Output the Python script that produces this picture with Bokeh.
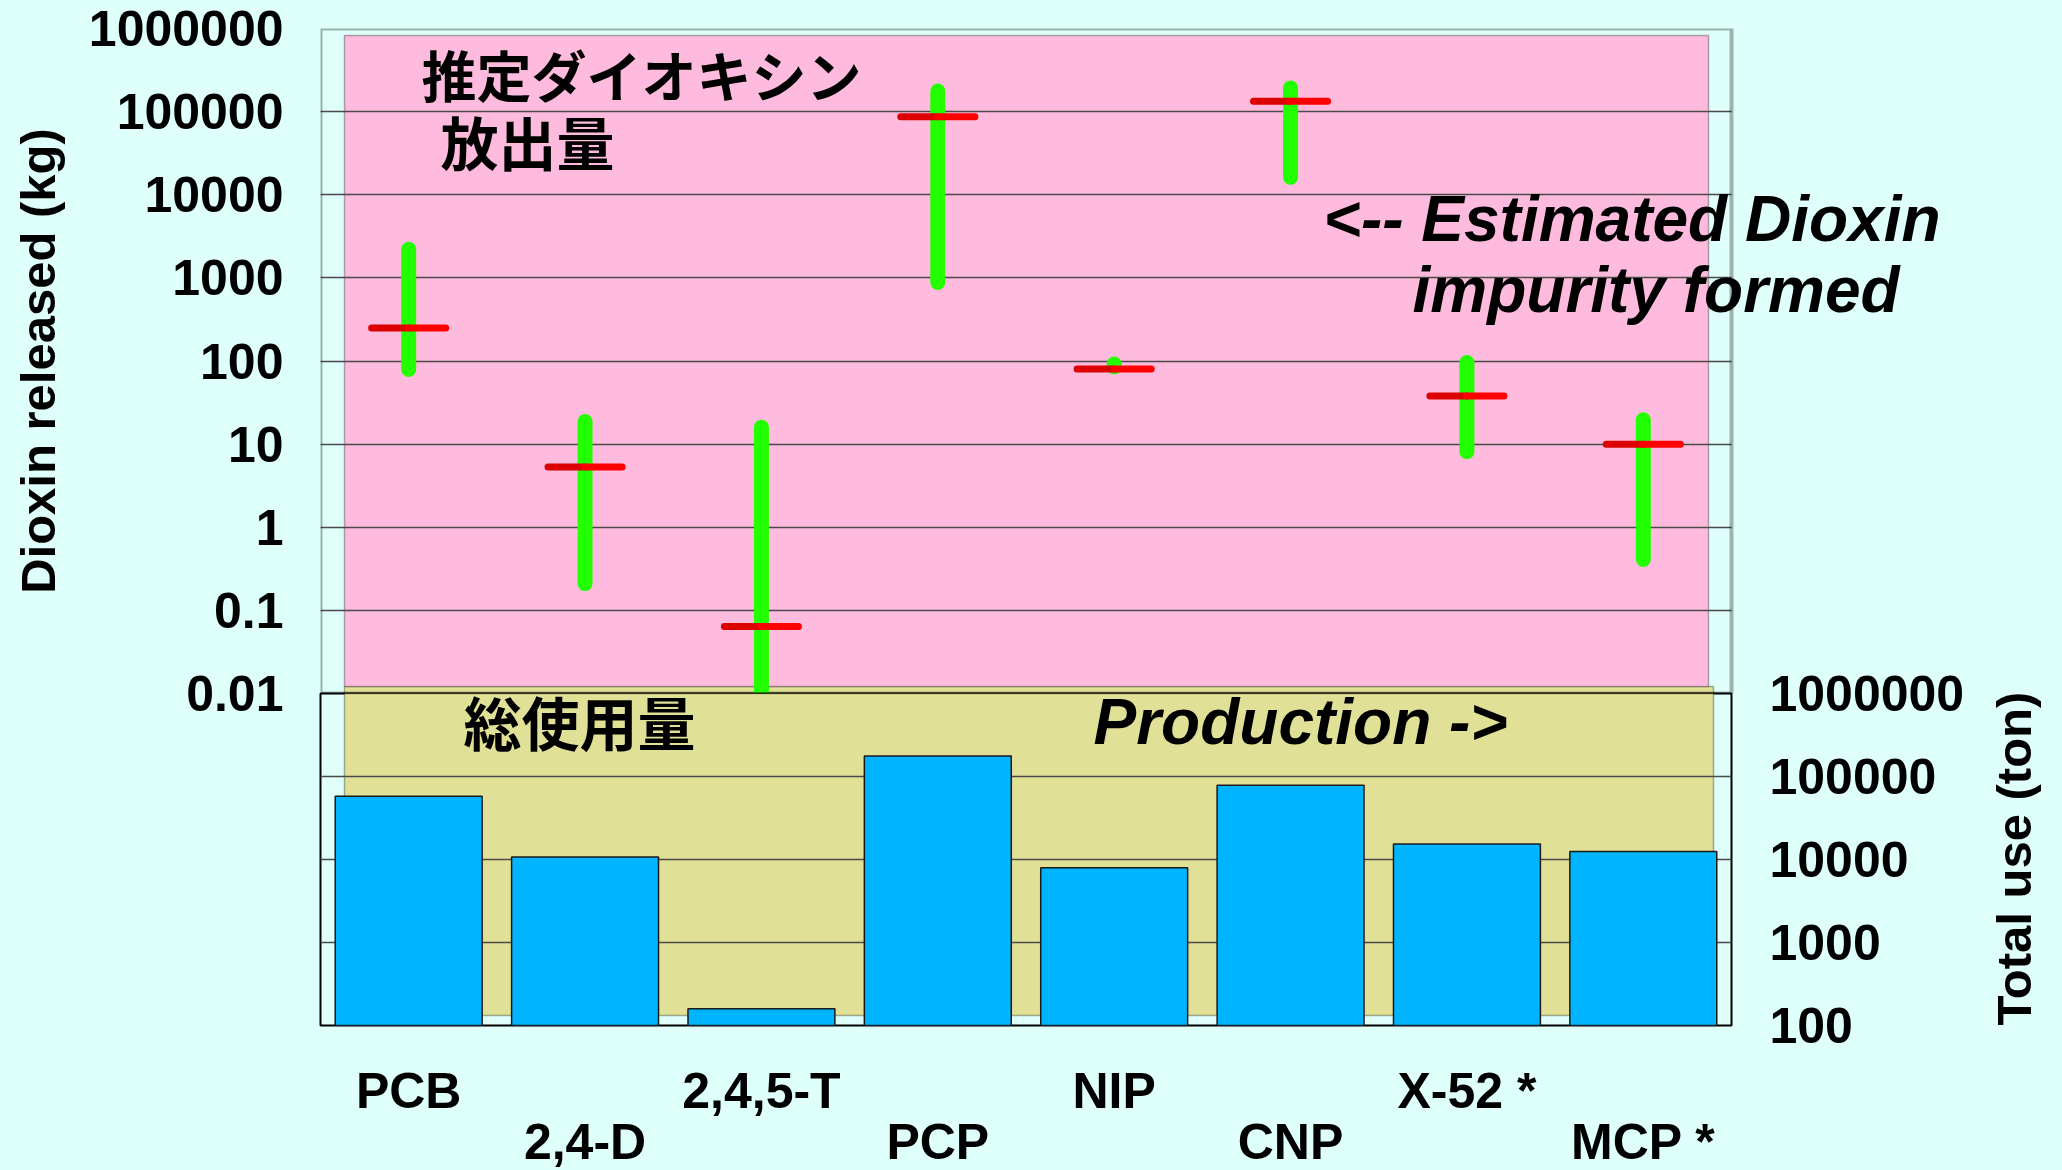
import math

from bokeh.plotting import figure
from bokeh.layouts import column
from bokeh.models import (ColumnDataSource, FixedTicker, Range1d, FactorRange,
                          BoxAnnotation, Label, CategoricalAxis,
                          CustomJSTickFormatter)
from bokeh.transform import dodge
from bokeh.embed import file_html
from bokeh.resources import INLINE

# ---- data -------------------------------------------------------------
categories = ["PCB", "2,4-D", "2,4,5-T", "PCP", "NIP", "CNP", "X-52 *", "MCP *"]

# estimated dioxin impurity released (kg): range and central estimate
dioxin_low = [79, 0.21, 0.01, 880, 85, 16200, 8.1, 0.41]
dioxin_high = [2210, 18.7, 16, 177000, 92, 193000, 96, 19.6]
dioxin_est = [250, 5.3, 0.064, 87000, 80, 133000, 38, 10]

# total production / use (ton)
total_use = [58000, 10700, 159, 176000, 7940, 78700, 15400, 12500]

dioxin_ticks = [0.01, 0.1, 1, 10, 100, 1000, 10000, 100000, 1000000]
dioxin_tick_labels = ["0.01", "0.1", "1", "10", "100", "1000", "10000",
                      "100000", "1000000"]
use_ticks = [100, 1000, 10000, 100000, 1000000]
use_tick_labels = ["100", "1000", "10000", "100000", "1000000"]

# ---- styling ------------------------------------------------------------
BG = "#DEFFFA"
PINK = "#FFBBDD"
KHAKI = "#E0E096"
BAR = "#00B4FF"
GREEN = "#22FF00"
RED = "#FF0000"
RED_DARK = "#DC0000"
GRID = "#4a4a4a"
FONT = "Liberation Sans"
CJK = "Noto Sans CJK JP"

W = 2062
FRAME_L, FRAME_W = 320, 1411
TOP_T, TOP_H = 28, 665
BOT_H, BOT_B = 332, 145
PAD = 30                       # room for the tick labels at the panel seam
RIGHT_B = W - FRAME_L - FRAME_W
CAT_PX = FRAME_W / len(categories)
N = len(categories)


def sx(px):
    """screen x (px) -> categorical synthetic coordinate"""
    return (px - FRAME_L) / CAT_PX


def sy_top(py):
    """screen y (px) -> value on the kg axis (8 decades over TOP_H)"""
    return 10 ** (6 - (py - TOP_T) * 8 / TOP_H)


def sy_bot(py):
    """screen y (px) -> value on the ton axis (4 decades over BOT_H)"""
    return 10 ** (6 - (py - (TOP_T + TOP_H)) * 4 / BOT_H)


def style_axis(ax):
    ax.major_label_text_font = FONT
    ax.major_label_text_font_size = "50px"
    ax.major_label_text_font_style = "bold"
    ax.major_label_text_color = "black"
    ax.major_tick_line_color = None
    ax.minor_tick_line_color = None
    ax.major_tick_out = 0
    ax.major_tick_in = 0
    ax.minor_tick_out = 0
    ax.axis_line_color = None


def big_label(text, x, y, size, font=FONT, style="bold", baseline="middle"):
    return Label(x=x, y=y, text=text, text_font=font, text_font_size=size,
                 text_font_style=style, text_align="left",
                 text_baseline=baseline, text_color="black")


# ---- upper panel: dioxin released ----------------------------------------
# the frame runs on to the right edge so the note can overhang the plot box
top = figure(x_range=Range1d(0, (W - FRAME_L) / CAT_PX),
             y_range=Range1d(0.01, 1e6), y_axis_type="log",
             x_axis_location=None,
             frame_width=W - FRAME_L, frame_height=TOP_H,
             min_border_left=FRAME_L, min_border_right=0,
             min_border_top=TOP_T, min_border_bottom=PAD,
             output_backend="svg", toolbar_location=None,
             background_fill_color=BG, border_fill_color=BG,
             outline_line_color=None)

top.add_layout(BoxAnnotation(left=sx(344), right=sx(1713), top=sy_top(686),
                             fill_color=KHAKI, fill_alpha=1,
                             line_color="black", line_width=1.5, level="image"))
top.add_layout(BoxAnnotation(left=sx(344), right=sx(1708),
                             top=sy_top(35), bottom=sy_top(686),
                             fill_color=PINK, fill_alpha=1,
                             line_color="black", line_width=1.5, level="image"))

yax = top.yaxis[0]
yax.ticker = FixedTicker(ticks=dioxin_ticks)
yax.major_label_overrides = dict(zip(dioxin_ticks, dioxin_tick_labels))
style_axis(yax)
yax.major_label_standoff = 37
yax.axis_label = "Dioxin released (kg)"
yax.axis_label_text_font = FONT
yax.axis_label_text_font_size = "49px"
yax.axis_label_text_font_style = "bold"
yax.axis_label_text_color = "black"
yax.axis_label_standoff = 21

top.xgrid.visible = False
top.ygrid.ticker = FixedTicker(ticks=dioxin_ticks)
top.ygrid.grid_line_color = GRID
top.ygrid.grid_line_width = 1.5

# blank out the grid beyond the plot box, then draw the box itself
top.add_layout(BoxAnnotation(left=N, fill_color=BG, fill_alpha=1,
                             line_color=None, level="underlay"))
top.add_layout(BoxAnnotation(left=0, right=N, fill_alpha=0,
                             line_color="black", line_width=4,
                             level="underlay"))

src = ColumnDataSource(dict(x=[i + 0.5 for i in range(N)], low=dioxin_low,
                            high=dioxin_high, est=dioxin_est))
top.segment(x0="x", x1="x", y0="low", y1="high", source=src,
            line_color=GREEN, line_width=15, line_cap="round")
top.segment(x0=dodge("x", -0.21), x1="x", y0="est", y1="est", source=src,
            line_color=RED_DARK, line_width=7, line_cap="round")
top.segment(x0="x", x1=dodge("x", 0.21), y0="est", y1="est", source=src,
            line_color=RED, line_width=7, line_cap="round")

top.add_layout(big_label("推定ダイオキシン", sx(421), sy_top(72), "55px", CJK))
top.add_layout(big_label("放出量", sx(440), sy_top(140), "58px", CJK))
top.add_layout(big_label("<-- Estimated Dioxin", sx(1323), sy_top(218),
                         "64px", style="bold italic", baseline="alphabetic"))
top.add_layout(big_label("impurity formed", sx(1412), sy_top(289),
                         "64px", style="bold italic", baseline="alphabetic"))

# ---- lower panel: total use ---------------------------------------------
bot = figure(x_range=FactorRange(factors=categories),
             y_range=Range1d(100, 1e6), y_axis_type="log",
             y_axis_location="right",
             frame_width=FRAME_W, frame_height=BOT_H,
             min_border_left=FRAME_L, min_border_right=RIGHT_B,
             min_border_top=PAD, min_border_bottom=BOT_B,
             output_backend="svg", toolbar_location=None,
             background_fill_color=BG, border_fill_color=None,
             outline_line_color="black", outline_line_width=2,
             margin=(-2 * PAD, 0, 0, 0))

bot.add_layout(BoxAnnotation(left=sx(344), right=sx(1713), bottom=sy_bot(1015),
                             fill_color=KHAKI, fill_alpha=1,
                             line_color="black", line_width=1.5, level="image"))

rax = bot.yaxis[0]
rax.ticker = FixedTicker(ticks=use_ticks)
rax.major_label_overrides = dict(zip(use_ticks, use_tick_labels))
style_axis(rax)
rax.major_label_standoff = 38
rax.axis_label = "Total use (ton)"
rax.axis_label_text_font = FONT
rax.axis_label_text_font_size = "49px"
rax.axis_label_text_font_style = "bold"
rax.axis_label_text_color = "black"
rax.axis_label_standoff = 47
props = rax.properties()
if "axis_label_orientation" in props:
    rax.axis_label_orientation = math.pi / 2
if "axis_label_align" in props:
    rax.axis_label_align = "start"

# category names, staggered over two rows
pick = "return index % 2 === parity ? tick : '';"
xax = bot.xaxis[0]
style_axis(xax)
xax.major_label_standoff = 37
xax.formatter = CustomJSTickFormatter(args=dict(parity=0), code=pick)
xax2 = CategoricalAxis(formatter=CustomJSTickFormatter(args=dict(parity=1),
                                                       code=pick))
style_axis(xax2)
xax2.major_label_standoff = -8
bot.add_layout(xax2, "below")

bot.xgrid.visible = False
bot.ygrid.ticker = FixedTicker(ticks=use_ticks[1:-1])
bot.ygrid.grid_line_color = GRID
bot.ygrid.grid_line_width = 1.5

usrc = ColumnDataSource(dict(cat=categories, use=total_use))
bot.vbar(x="cat", top="use", bottom=100, width=0.833, source=usrc,
         fill_color=BAR, line_color="#1a1a1a", line_width=1.5)

bot.add_layout(big_label("総使用量", sx(463), sy_bot(720), "58px", CJK))
bot.add_layout(big_label("Production ->", sx(1093), sy_bot(721),
                         "64px", style="bold italic", baseline="alphabetic"))

p = column(top, bot, spacing=0, styles={"background-color": BG})
open("out.html", "w").write(file_html(p, INLINE))
